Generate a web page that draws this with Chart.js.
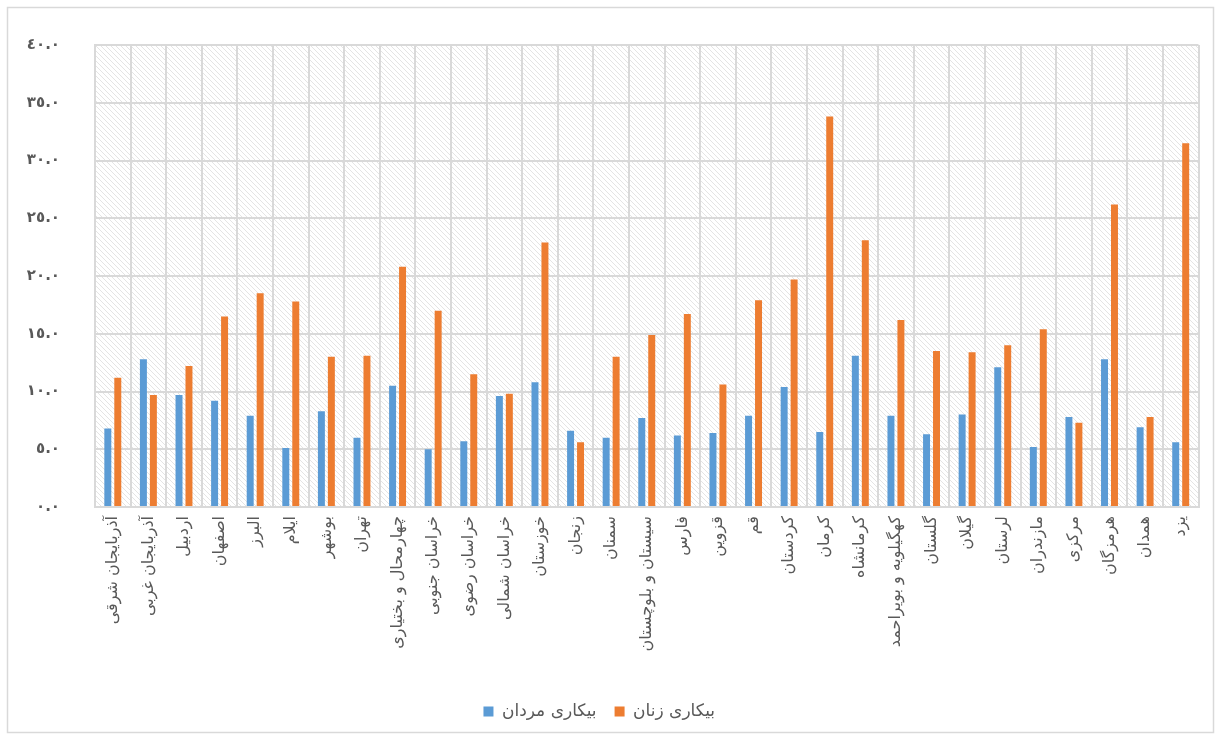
<!DOCTYPE html>
<html lang="fa">
<head>
<meta charset="utf-8">
<title>بیکاری مردان و زنان به تفکیک استان</title>
<script src="https://cdn.jsdelivr.net/npm/chart.js@4.4.1/dist/chart.umd.min.js"></script>
<style>
  html, body { margin: 0; padding: 0; background: #ffffff; }
  #wrap { width: 1221px; height: 740px; position: relative; }
</style>
</head>
<body>
<div id="wrap"><canvas id="chart" width="1221" height="740"></canvas></div>
<script>
// Provinces (x-axis categories)
const provinces = [
  'آذربایجان شرقی', 'آذربایجان غربی', 'اردبیل', 'اصفهان', 'البرز', 'ایلام', 'بوشهر', 'تهران',
  'چهارمحال و بختیاری', 'خراسان جنوبی', 'خراسان رضوی', 'خراسان شمالی', 'خوزستان', 'زنجان',
  'سمنان', 'سیستان و بلوچستان', 'فارس', 'قزوین', 'قم', 'کردستان', 'کرمان', 'کرمانشاه',
  'کهگیلویه و بویراحمد', 'گلستان', 'گیلان', 'لرستان', 'مازندران', 'مرکزی', 'هرمزگان', 'همدان', 'یزد'
];

// Unemployment rate of men (%)
const menUnemployment = [
  6.8, 12.8, 9.7, 9.2, 7.9, 5.1, 8.3, 6.0,
  10.5, 5.0, 5.7, 9.6, 10.8, 6.6,
  6.0, 7.7, 6.2, 6.4, 7.9, 10.4, 6.5, 13.1,
  7.9, 6.3, 8.0, 12.1, 5.2, 7.8, 12.8, 6.9, 5.6
];

// Unemployment rate of women (%)
const womenUnemployment = [
  11.2, 9.7, 12.2, 16.5, 18.5, 17.8, 13.0, 13.1,
  20.8, 17.0, 11.5, 9.8, 22.9, 5.6,
  13.0, 14.9, 16.7, 10.6, 17.9, 19.7, 33.8, 23.1,
  16.2, 13.5, 13.4, 14.0, 15.4, 7.3, 26.2, 7.8, 31.5
];

const seriesNames = ['بیکاری مردان', 'بیکاری زنان'];

// Value axis range
const yMin = 0, yMax = 40, yStep = 5;

const arabicDigits = ['٠','١','٢','٣','٤','٥','٦','٧','٨','٩'];
function toArabicDigits(str) {
  return String(str).replace(/[0-9]/g, d => arabicDigits[+d]);
}

const gridColor = '#d9d9d9';
const textColor = '#595959';
const fontFamily = '"DejaVu Sans", "Noto Sans", sans-serif';

// Diagonal hatch tile for the plot background
function makeHatch() {
  const size = 5;
  const c = document.createElement('canvas');
  c.width = size; c.height = size;
  const g = c.getContext('2d');
  g.fillStyle = '#ffffff';
  g.fillRect(0, 0, size, size);
  g.fillStyle = '#e4e4e4';
  for (let i = 0; i < size; i++) {
    g.fillRect(i, i, 1, 1);
  }
  return g.createPattern(c, 'repeat');
}

const backdropPlugin = {
  id: 'backdrop',
  beforeDraw(chart) {
    const { ctx, chartArea, width, height } = chart;
    ctx.save();
    ctx.fillStyle = '#ffffff';
    ctx.fillRect(0, 0, width, height);
    ctx.fillStyle = makeHatch();
    ctx.fillRect(chartArea.left, chartArea.top,
                 chartArea.right - chartArea.left, chartArea.bottom - chartArea.top);
    ctx.strokeStyle = gridColor;
    ctx.lineWidth = 1.5;
    ctx.strokeRect(7.5, 7.5, width - 15, height - 15);
    ctx.restore();
  }
};

new Chart(document.getElementById('chart'), {
  type: 'bar',
  data: {
    labels: provinces,
    datasets: [
      {
        label: seriesNames[0],
        data: menUnemployment,
        backgroundColor: '#5b9bd5',
        borderWidth: 0,
        categoryPercentage: 0.56,
        barPercentage: 0.7
      },
      {
        label: seriesNames[1],
        data: womenUnemployment,
        backgroundColor: '#ed7d31',
        borderWidth: 0,
        categoryPercentage: 0.56,
        barPercentage: 0.7
      }
    ]
  },
  options: {
    responsive: false,
    animation: false,
    devicePixelRatio: 1,
    layout: { padding: { top: 45, right: 22.5, bottom: 10, left: 0 } },
    plugins: {
      tooltip: { enabled: false },
      legend: {
        position: 'bottom',
        labels: {
          color: textColor,
          font: { family: fontFamily, size: 17 },
          boxWidth: 10,
          boxHeight: 10,
          padding: 18
        }
      }
    },
    scales: {
      x: {
        grid: { color: gridColor, lineWidth: 2, drawTicks: false, offset: true },
        border: { color: gridColor, width: 2 },
        ticks: {
          color: textColor,
          font: { family: fontFamily, size: 16 },
          autoSkip: false,
          maxRotation: 90,
          minRotation: 90,
          padding: 9
        },
        afterFit(scale) { scale.height = 178; }
      },
      y: {
        min: yMin,
        max: yMax,
        grid: { color: gridColor, lineWidth: 2, drawTicks: false },
        border: { color: gridColor, width: 2 },
        ticks: {
          stepSize: yStep,
          color: textColor,
          font: { family: fontFamily, size: 15, weight: 'bold' },
          padding: 35,
          callback: v => toArabicDigits(Number(v).toFixed(1))
        },
        afterFit(scale) { scale.width = 95; }
      }
    }
  },
  plugins: [backdropPlugin]
});
</script>
</body>
</html>
